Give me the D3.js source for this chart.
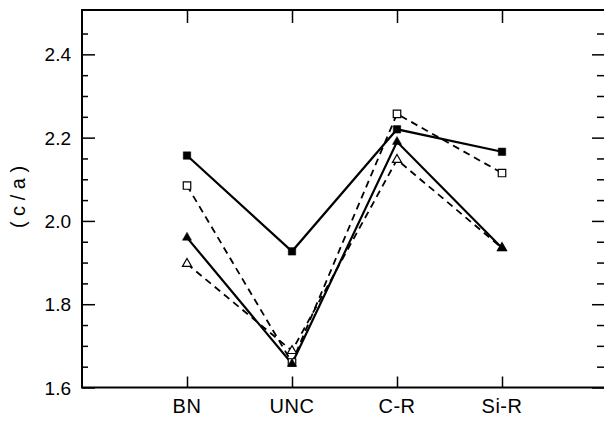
<!DOCTYPE html>
<html>
<head>
<meta charset="utf-8">
<script src="https://cdn.jsdelivr.net/npm/d3@7"></script>
<style>
  body { margin: 0; background: #fff; }
  svg { display: block; font-family: "Liberation Sans", Arial, sans-serif; }
</style>
</head>
<body>
<div id="chart"></div>
<script>
// categories and (c/a) values
const categories = ["BN", "UNC", "C-R", "Si-R"];
const filledSquares = [2.157, 1.927, 2.220, 2.166];   // solid line
const openSquares = [2.085, 1.66, 2.257, 2.115];      // dashed line
const filledTriangles = [1.960, 1.657, 2.190, 1.935]; // solid line
const openTriangles = [1.897, 1.688, 2.147, 1.935];   // dashed line
const yTicks = [1.6, 1.8, 2.0, 2.2, 2.4];
const yMinorTicks = [1.65, 1.7, 1.75, 1.85, 1.9, 1.95, 2.05, 2.1, 2.15, 2.25, 2.3, 2.35, 2.45];

const width = 604, height = 421;
const frameLeft = 82, frameRight = 607, frameTop = 10, frameBottom = 387.5;

const svg = d3.select("#chart")
    .append("svg")
    .attr("width", width)
    .attr("height", height);

const x = d3.scalePoint()
    .domain(categories)
    .range([frameLeft, frameRight])
    .padding(1);

const y = d3.scaleLinear()
    .domain([1.6, 2.5])
    .range([frameBottom, 12.7]);

// frame
svg.append("rect")
    .attr("x", frameLeft)
    .attr("y", frameTop)
    .attr("width", frameRight - frameLeft)
    .attr("height", frameBottom - frameTop)
    .attr("fill", "none")
    .attr("stroke", "#000")
    .attr("stroke-width", 2);

// left axis
svg.append("g")
    .attr("transform", `translate(${frameLeft},0)`)
    .call(d3.axisRight(y).tickValues(yTicks).tickSize(13).tickFormat(""))
    .call(g => g.select(".domain").remove())
    .selectAll("line").attr("stroke-width", 1.5);

svg.append("g")
    .attr("transform", `translate(${frameLeft},0)`)
    .call(d3.axisRight(y).tickValues(yMinorTicks).tickSize(6).tickFormat(""))
    .call(g => g.select(".domain").remove())
    .selectAll("line").attr("stroke-width", 1.5);

// tick labels on the left
svg.append("g")
    .selectAll("text")
    .data(yTicks)
    .enter()
    .append("text")
    .attr("x", frameLeft - 11)
    .attr("y", d => y(d) + 7)
    .attr("text-anchor", "end")
    .attr("font-size", 19)
    .text(d => d.toFixed(1));

// right axis (inward ticks)
svg.append("g")
    .attr("transform", `translate(${frameRight},0)`)
    .call(d3.axisLeft(y).tickValues(yTicks).tickSize(15).tickFormat(""))
    .call(g => g.select(".domain").remove())
    .selectAll("line").attr("stroke-width", 1.5);

svg.append("g")
    .attr("transform", `translate(${frameRight},0)`)
    .call(d3.axisLeft(y).tickValues(yMinorTicks).tickSize(10).tickFormat(""))
    .call(g => g.select(".domain").remove())
    .selectAll("line").attr("stroke-width", 1.5);

// bottom axis
svg.append("g")
    .attr("transform", `translate(0,${frameBottom})`)
    .call(d3.axisTop(x).tickSize(11).tickFormat(""))
    .call(g => g.select(".domain").remove())
    .selectAll("line").attr("stroke-width", 1.5);

svg.append("g")
    .selectAll("text")
    .data(categories)
    .enter()
    .append("text")
    .attr("x", d => x(d))
    .attr("y", 413)
    .attr("text-anchor", "middle")
    .attr("font-size", 20)
    .attr("letter-spacing", 0.5)
    .text(d => d);

// top axis
svg.append("g")
    .attr("transform", `translate(0,${frameTop})`)
    .call(d3.axisBottom(x).tickSize(13).tickFormat(""))
    .call(g => g.select(".domain").remove())
    .selectAll("line").attr("stroke-width", 1.5);

// y title
svg.append("text")
    .attr("transform", "translate(25,197) rotate(-90)")
    .attr("text-anchor", "middle")
    .attr("font-size", 20)
    .text("( c / a )");

// series
const series = [
    { values: openTriangles, dash: "7,5", marker: "triangle", fill: "#fff" },
    { values: openSquares, dash: "7,5", marker: "square", fill: "#fff" },
    { values: filledTriangles, dash: null, marker: "triangle", fill: "#000" },
    { values: filledSquares, dash: null, marker: "square", fill: "#000" }
];

const line = d3.line()
    .x((d, i) => x(categories[i]))
    .y(d => y(d));

series.forEach(s => {
    svg.append("path")
        .datum(s.values)
        .attr("fill", "none")
        .attr("stroke", "#000")
        .attr("stroke-width", s.dash ? 1.8 : 2.2)
        .attr("stroke-dasharray", s.dash)
        .attr("d", line);
});

series.forEach(s => {
    const sym = d3.symbol()
        .type(s.marker === "square" ? d3.symbolSquare : d3.symbolTriangle)
        .size(s.marker === "square" ? 56 : 36);
    svg.append("g")
        .selectAll("path")
        .data(s.values)
        .enter()
        .append("path")
        .attr("transform", (d, i) => `translate(${x(categories[i])},${y(d)})`)
        .attr("d", sym)
        .attr("fill", s.fill)
        .attr("stroke", "#000")
        .attr("stroke-width", s.fill === "#fff" ? 1.2 : 0.5);
});
</script>
</body>
</html>
